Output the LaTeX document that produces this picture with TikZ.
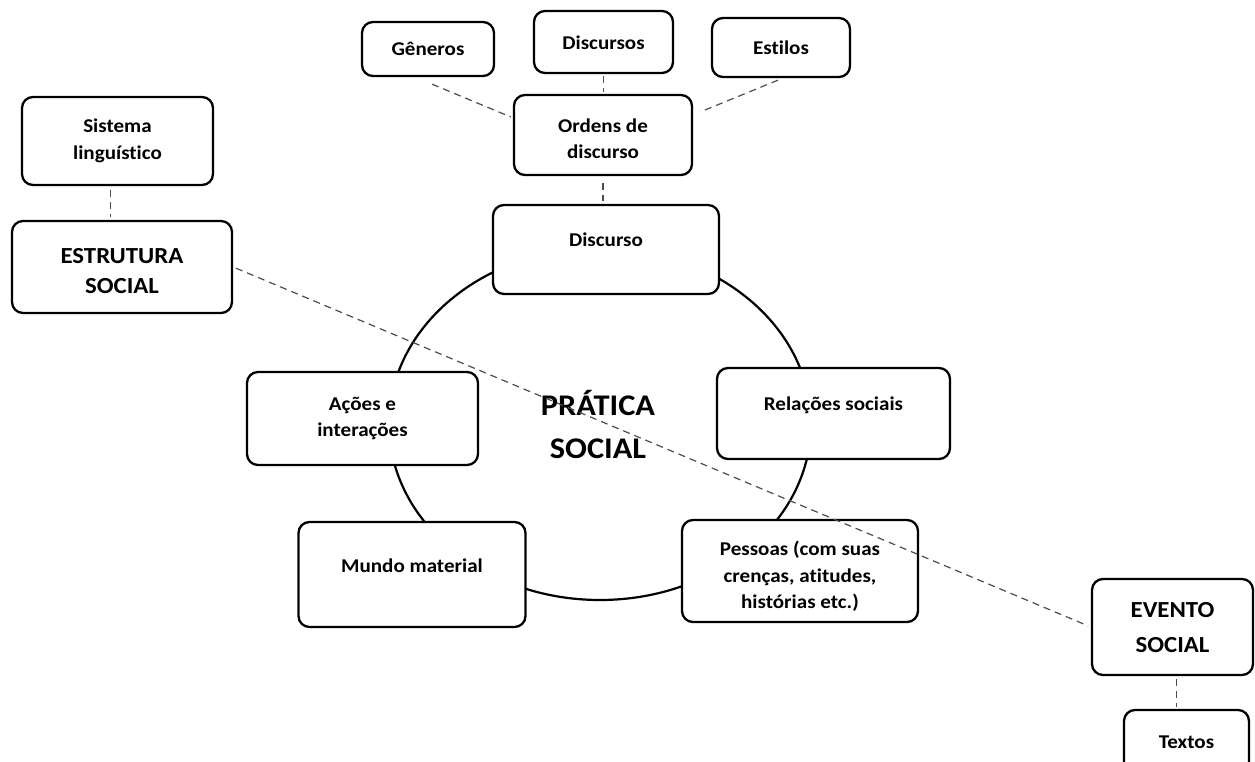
\documentclass[tikz,border=0pt]{standalone}
\usepackage{fontspec}
\setmainfont{Carlito}[FakeStretch=1.08, Ligatures={NoCommon,NoContextual}]
\usetikzlibrary{calc}

% box text moved up or down without changing the box
\newcommand{\boxtext}[2]{\raisebox{#1}[\height][\depth]{\begin{tabular}{@{}c@{}}#2\end{tabular}}}

\begin{document}
\begin{tikzpicture}[
    x=1pt, y=-1pt,
    box/.style={draw, line width=2.3pt, rounded corners=11pt, fill=white,
      align=center, inner sep=0pt, font=\fontsize{19.5}{26.5}\selectfont\bfseries},
    big/.style={box, font=\fontsize{23}{30}\selectfont\bfseries},
    link/.style={dashed, dash pattern=on 7pt off 5pt, line width=1.2pt, black!70},
  ]

  \useasboundingbox (0,0) rectangle (1255,762);

  % the ring of moments
  \draw[line width=2.2pt] (600,424) ellipse [x radius=211pt, y radius=176pt];

  % orders of discourse
  \node[box, minimum width=132pt, minimum height=54pt] (gen) at (428,49) {Gêneros};
  \node[box, minimum width=139pt, minimum height=62pt] (dis) at (603.5,42) {\boxtext{-2pt}{Discursos}};
  \node[box, minimum width=138pt, minimum height=59pt] (est) at (781,47.5) {Estilos};
  \node[box, minimum width=178pt, minimum height=80pt] (ord) at (603,135) {\boxtext{-5pt}{Ordens de\\discurso}};

  % structure and event
  \node[box, minimum width=191pt, minimum height=88pt] (sis) at (117.5,141) {Sistema\\linguístico};
  \node[big, minimum width=220pt, minimum height=92pt] (estr) at (122,267) {\boxtext{-5pt}{ESTRUTURA\\SOCIAL}};
  \node[big, minimum width=161pt, minimum height=96pt] (evt) at (1172.5,627) {\boxtext{-2pt}{EVENTO\\[5pt]SOCIAL}};
  \node[box, minimum width=125pt, minimum height=65pt] (tex) at (1186.5,742.5) {Textos};

  % moments of the practice
  \node[box, minimum width=226pt, minimum height=89pt] (disc) at (606,249.5) {\boxtext{8pt}{Discurso}};
  \node[box, minimum width=231pt, minimum height=93pt] (acoes) at (362.5,418.5) {Ações e\\interações};
  \node[box, minimum width=233pt, minimum height=91pt] (rel) at (833.5,413.5) {\boxtext{8pt}{Relações sociais}};
  \node[box, minimum width=227pt, minimum height=105pt] (mundo) at (412,574.5) {\boxtext{7pt}{Mundo material}};
  \node[box, minimum width=236pt, minimum height=102pt] (pes) at (800,571)
    {\boxtext{-6pt}{Pessoas (com suas\\crenças, atitudes,\\histórias etc.)}};

  \node[align=center, font=\fontsize{30}{43}\selectfont\bfseries] (prat) at (598,425) {PRÁTICA\\SOCIAL};

  % dashed links
  \draw[link] ([shift={(4,7)}]gen.south) -- ([shift={(-2,-18)}]ord.west);
  \draw[link, shorten <=2pt, shorten >=2pt] (dis.south) -- (dis.south |- ord.north);
  \draw[link] ([shift={(-3,2)}]est.south) -- ([shift={(7,-23)}]ord.east);
  \draw[link, shorten <=7pt, shorten >=3pt] (ord.south) -- (ord.south |- disc.north);
  \draw[link, shorten <=4pt, shorten >=3pt] ([xshift=-7pt]sis.south) -- ([xshift=-7pt]sis.south |- estr.north);
  \draw[link, shorten <=3pt, shorten >=3pt] (estr.east) -- (evt.west);
  \draw[link, shorten <=3pt, shorten >=2pt] ([xshift=4pt]evt.south) -- ([xshift=4pt]evt.south |- tex.north);

\end{tikzpicture}
\end{document}
